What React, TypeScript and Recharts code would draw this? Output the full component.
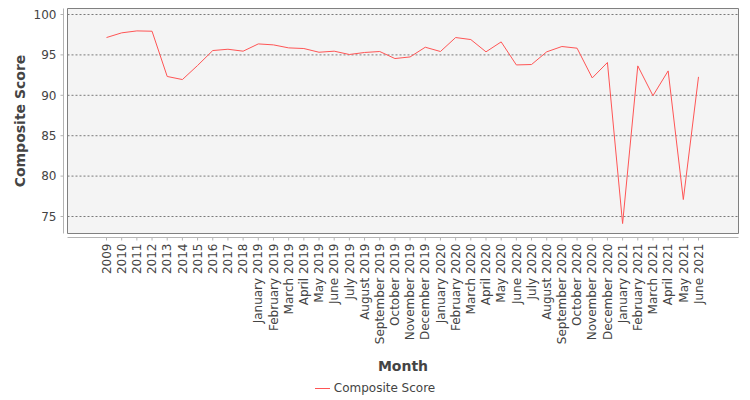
import React from 'react';
import { LineChart, Line, XAxis, YAxis, CartesianGrid, Legend } from 'recharts';

const FONT = '"DejaVu Sans", sans-serif';

const months = [
  '2009', '2010', '2011', '2012', '2013', '2014', '2015', '2016', '2017', '2018',
  'January 2019', 'February 2019', 'March 2019', 'April 2019', 'May 2019', 'June 2019',
  'July 2019', 'August 2019', 'September 2019', 'October 2019', 'November 2019', 'December 2019',
  'January 2020', 'February 2020', 'March 2020', 'April 2020', 'May 2020', 'June 2020',
  'July 2020', 'August 2020', 'September 2020', 'October 2020', 'November 2020', 'December 2020',
  'January 2021', 'February 2021', 'March 2021', 'April 2021', 'May 2021', 'June 2021',
];

const compositeScore = [
  97.15, 97.73, 97.97, 97.93, 92.33, 91.95, 93.69, 95.54, 95.7, 95.46,
  96.36, 96.24, 95.87, 95.79, 95.33, 95.46, 95.05, 95.3, 95.42, 94.55, 94.75, 95.95,
  95.42, 97.15, 96.9, 95.38, 96.61, 93.76, 93.81, 95.38, 96.04, 95.83, 92.15, 94.06,
  74.13, 93.64, 89.95, 93.02, 77.1, 92.28,
];

const yTicks = [75, 80, 85, 90, 95, 100];
const yDomain: [number, number] = [72.897, 100.743];

const data = months.map((m, i) => ({ month: m, score: compositeScore[i] }));

const XTick = (props: any) => {
  const { x, y, payload } = props;
  return (
    <text
      x={x}
      y={y}
      transform={`rotate(-90 ${x} ${y})`}
      textAnchor="end"
      dy="0.35em"
      fill="#444"
      fontSize={12}
      fontFamily={FONT}
    >
      {payload.value}
    </text>
  );
};

const XLabel = (props: any) => {
  const vb = props.viewBox || {};
  return (
    <text
      x={vb.x + vb.width / 2}
      y={vb.y + 133}
      textAnchor="middle"
      fill="#444"
      fontSize={14}
      fontWeight="bold"
      fontFamily={FONT}
    >
      Month
    </text>
  );
};

const YLabel = (props: any) => {
  const vb = props.viewBox || {};
  const cx = vb.x + 25;
  const cy = vb.y + vb.height / 2;
  return (
    <text
      x={cx}
      y={cy}
      transform={`rotate(-90 ${cx} ${cy})`}
      textAnchor="middle"
      fill="#444"
      fontSize={14}
      fontWeight="bold"
      fontFamily={FONT}
    >
      Composite Score
    </text>
  );
};

const LegendContent = (props: any) => {
  const payload = props.payload || [];
  return (
    <div
      style={{
        display: 'flex',
        justifyContent: 'center',
        alignItems: 'center',
        fontFamily: FONT,
        fontSize: 12,
        color: '#444',
        lineHeight: '14px',
      }}
    >
      {payload.map((p: any, i: number) => (
        <span key={i} style={{ display: 'inline-flex', alignItems: 'center' }}>
          <svg width={15} height={10} style={{ display: 'block' }}>
            <line x1={0} y1={5.5} x2={15} y2={5.5} stroke={p.color} strokeWidth={1} />
          </svg>
          <span style={{ marginLeft: 4 }}>{p.value}</span>
        </span>
      ))}
    </div>
  );
};

const padding = { left: 39, right: 40 };

export default function App() {
  return (
    <div style={{ position: 'absolute', left: 0, top: 0, width: 750, height: 400, background: '#fff' }}>
      <LineChart width={750} height={400} data={data} margin={{ top: 8, right: 11, bottom: 0, left: 0 }}>
        <CartesianGrid
          xAxisId="main"
          yAxisId="main"
          vertical={false}
          syncWithTicks
          stroke="#7a7a7a"
          strokeDasharray="2 2"
          fill="#f4f4f4"
          fillOpacity={1}
        />
        <XAxis
          xAxisId="frameB"
          dataKey="month"
          scale="point"
          padding={padding}
          orientation="bottom"
          height={4}
          tick={false}
          tickLine={false}
          axisLine={{ stroke: '#808080' }}
        />
        <XAxis
          xAxisId="main"
          dataKey="month"
          scale="point"
          padding={padding}
          orientation="bottom"
          height={162.5}
          interval={0}
          tickSize={3}
          tickMargin={3}
          tick={<XTick />}
          tickLine={{ stroke: '#b4b4b4' }}
          axisLine={{ stroke: '#b4b4b4' }}
          label={<XLabel />}
        />
        <XAxis
          xAxisId="frameT"
          dataKey="month"
          scale="point"
          padding={padding}
          orientation="top"
          height={0.5}
          tick={false}
          tickLine={false}
          axisLine={{ stroke: '#808080' }}
        />
        <YAxis
          yAxisId="frameL"
          orientation="left"
          width={4}
          domain={yDomain}
          ticks={yTicks}
          tick={false}
          tickLine={false}
          axisLine={{ stroke: '#808080' }}
        />
        <YAxis
          yAxisId="main"
          orientation="left"
          width={63.5}
          type="number"
          domain={yDomain}
          ticks={yTicks}
          interval={0}
          tickSize={3}
          tickMargin={4}
          tick={{ fill: '#444', fontSize: 12, fontFamily: FONT }}
          tickLine={{ stroke: '#b4b4b4' }}
          axisLine={{ stroke: '#b4b4b4' }}
          label={<YLabel />}
        />
        <YAxis
          yAxisId="frameR"
          orientation="right"
          width={0.5}
          domain={yDomain}
          ticks={yTicks}
          tick={false}
          tickLine={false}
          axisLine={{ stroke: '#808080' }}
        />
        <Legend
          verticalAlign="middle"
          align="center"
          layout="horizontal"
          wrapperStyle={{ top: 381, left: 0, width: 750 }}
          content={<LegendContent />}
        />
        <Line
          xAxisId="main"
          yAxisId="main"
          type="linear"
          dataKey="score"
          name="Composite Score"
          stroke="#ff5555"
          strokeWidth={1}
          dot={false}
          activeDot={false}
          isAnimationActive={false}
        />
      </LineChart>
    </div>
  );
}
